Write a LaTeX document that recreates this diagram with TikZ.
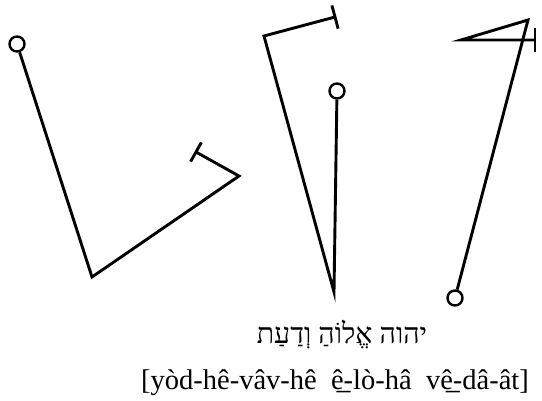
\documentclass[tikz,border=0pt]{standalone}
\usepackage{fontspec}
\setmainfont{Liberation Serif}
\newfontfamily\hebrewfont[Script=Hebrew]{Liberation Serif}
\TeXXeTstate=1
\usetikzlibrary{calc}

\begin{document}
\begin{tikzpicture}[x=1pt,y=-1pt,
  stroke/.style={line width=2.9pt, line join=miter},
  ring/.style={circle, draw, line width=2.4pt, minimum size=15pt, inner sep=0pt},
  bar/.style={line width=2.9pt},
  caption/.style={font=\fontsize{28.5}{34}\selectfont, inner sep=0pt}]
\useasboundingbox (0,0) rectangle (542,400);
% first letter
\node[ring] (R1) at (17,44) {};
\coordinate (A1) at (92,277);
\coordinate (B1) at (239,176);
\coordinate (C1) at (196,152);
\draw[stroke] (R1) -- (A1) -- (B1) -- (C1);
\draw[bar] ($(C1)!11pt!90:(B1)$) -- ($(C1)!11pt!-90:(B1)$);
% second letter
\node[ring] (R2) at (337,91) {};
\coordinate (T2) at (335,17);
\coordinate (K2) at (264,36);
\coordinate (V2) at (334,292);
\draw[stroke] (T2) -- (K2) -- (V2) -- (R2);
\draw[bar] ($(T2)!12pt!90:(K2)$) -- ($(T2)!12pt!-90:(K2)$);
% third letter
\node[ring] (R3) at (455,298) {};
\coordinate (H3) at (535,40);
\coordinate (L3) at (461,40);
\coordinate (P3) at (528,20);
\draw[stroke] (H3) -- (L3) -- (P3) -- (R3);
\draw[bar] ($(H3)!12pt!90:(L3)$) -- ($(H3)!12pt!-90:(L3)$);
% captions
\node[caption, anchor=base] (heb) at (342,343)
  {\hebrewfont\beginR יהוה אֱלוֹהַ וְדַעַת\endR};
\node[caption, anchor=base] (tr) at (335,389)
  {[yòd-hê-vâv-hê\ \ \b{ê}-lò-hâ\ \ v\b{ê}-dâ-ât]};
\end{tikzpicture}
\end{document}
